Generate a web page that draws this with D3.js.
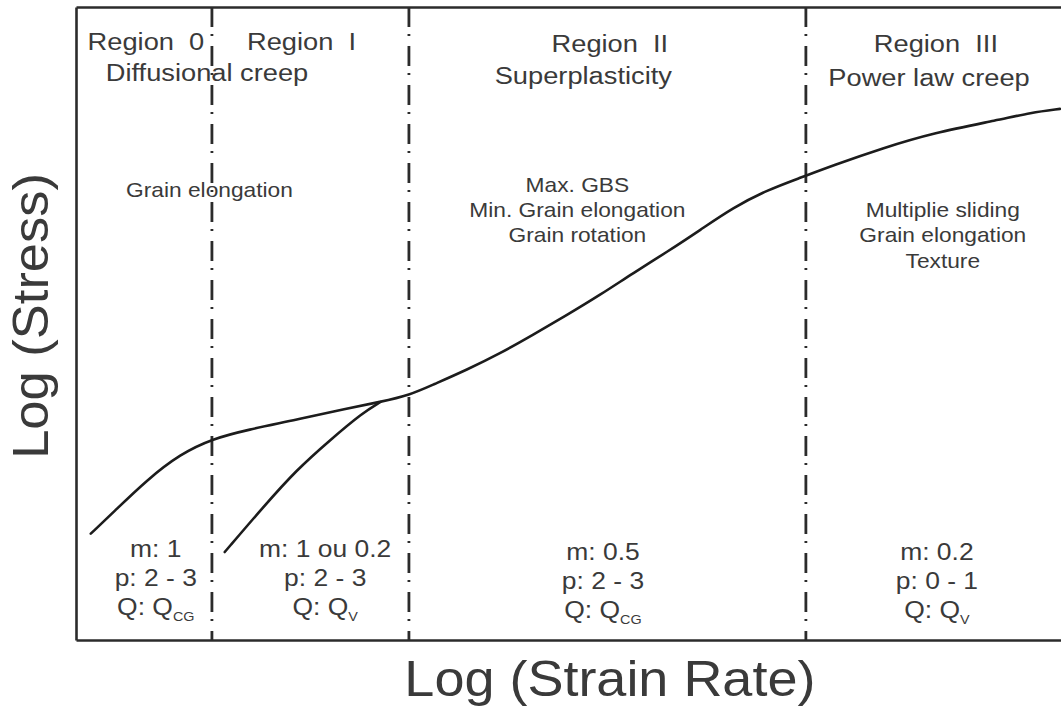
<!DOCTYPE html>
<html>
<head>
<meta charset="utf-8">
<script src="https://cdn.jsdelivr.net/npm/d3@7/dist/d3.min.js"></script>
<style>
  html, body { margin: 0; padding: 0; background: #fff; }
  svg { display: block; }
  text { font-family: "Liberation Sans", Arial, Helvetica, sans-serif; fill: #3a3a3a; white-space: pre; }
</style>
</head>
<body>
<script>
// Schematic deformation map: log(stress) against log(strain rate), in arbitrary units (0-100).

// Main flow curve through all four regimes
const mainCurve = [
  [1.5, 16.8], [3.8, 20.2], [7.2, 25.3], [10.6, 29.4], [13.9, 31.8], [17.4, 33.2],
  [22.4, 34.8], [27.5, 36.6], [30.9, 37.6], [33.9, 38.7], [36.2, 40.3], [39.7, 42.7],
  [43.1, 45.3], [46.4, 48.2], [49.8, 51.3], [53.2, 54.5], [56.6, 58.0], [60.0, 61.3],
  [63.4, 64.8], [66.7, 68.3], [70.2, 71.1], [73.5, 73.0], [76.9, 75.0], [81.9, 77.7],
  [87.0, 80.1], [93.8, 82.2], [96.9, 83.3], [99.9, 83.9]
];

// Alternative branch in Region I joining the main curve
const branchCurve = [
  [15.1, 13.9], [19.0, 21.0], [22.4, 26.9], [25.8, 31.6], [29.1, 35.9], [30.9, 37.6]
];

// Region boundaries along log(strain rate)
const boundaries = [13.8, 33.8, 74.1];

const regionNames = ["Region  0", "Region  I", "Region  II", "Region  III"];
const mechanisms = ["Diffusional creep", "Superplasticity", "Power law creep"];
const features = [
  ["Grain elongation"],
  [],
  ["Max. GBS", "Min. Grain elongation", "Grain rotation"],
  ["Multiplie sliding", "Grain elongation", "Texture"]
];
const mValues = ["1", "1 ou 0.2", "0.5", "0.2"];
const pValues = ["2 - 3", "2 - 3", "2 - 3", "0 - 1"];
const qSubscripts = ["CG", "V", "CG", "V"];

const xTitle = "Log (Strain Rate)";
const yTitle = "Log (Stress)";

// ---- layout ----
const W = 1061, H = 709;
const plot = { left: 76, right: 1061, top: 7, bottom: 640 };

const svg = d3.select("body").append("svg").attr("width", W).attr("height", H);

const x = d3.scaleLinear().domain([0, 100]).range([plot.left, plot.right]);
const y = d3.scaleLinear().domain([0, 100]).range([plot.bottom, plot.top]);

// Label anchors, in data units
const titlePos = [[7.1, 93.2], [22.9, 93.2], [54.2, 92.9], [87.3, 92.9]];
const mechPos = [[13.3, 88.3], [51.5, 87.8], [86.6, 87.5]];
const featurePos = [[13.55, 70.0], null, [50.9, 70.8], [88.0, 66.8]];
const featureStep = 4.0;
const paramPos = [[8.1, 13.1], [25.3, 13.1], [53.5, 12.6], [87.4, 12.6]];
const paramStep = 4.6;

const frameColor = "#2b2b2b";

// Frame: bottom, left and top lines drawn as tickless axes
function styleAxis(g) {
  g.selectAll(".domain").attr("stroke", frameColor).attr("stroke-width", 2.6);
}
svg.append("g")
  .attr("transform", `translate(0,${plot.bottom})`)
  .call(d3.axisBottom(x).tickValues([]).tickSizeOuter(0))
  .call(styleAxis);
svg.append("g")
  .attr("transform", `translate(0,${plot.top})`)
  .call(d3.axisTop(x).tickValues([]).tickSizeOuter(0))
  .call(styleAxis);
svg.append("g")
  .attr("transform", `translate(${plot.left},0)`)
  .call(d3.axisLeft(y).tickValues([]).tickSizeOuter(0))
  .call(styleAxis);

// Dash-dot region boundaries
svg.append("g").selectAll("line")
  .data(boundaries)
  .join("line")
  .attr("x1", d => x(d)).attr("x2", d => x(d))
  .attr("y1", y(100)).attr("y2", y(0))
  .attr("stroke", frameColor)
  .attr("stroke-width", 2.8)
  .attr("stroke-dasharray", "20,7,2,10");

// Flow curves (B-spline through the read points for a smooth trace)
const line = d3.line()
  .x(d => x(d[0]))
  .y(d => y(d[1]))
  .curve(d3.curveBasis);

svg.append("g").selectAll("path")
  .data([mainCurve, branchCurve])
  .join("path")
  .attr("d", line)
  .attr("fill", "none")
  .attr("stroke", "#1c1c1c")
  .attr("stroke-width", 2.6)
  .attr("stroke-linecap", "round");

// Horizontally stretched centred label
function label(parent, txt, px, py, size, sx) {
  return parent.append("text")
    .attr("transform", `translate(${px},${py}) scale(${sx},1)`)
    .attr("text-anchor", "middle")
    .style("font-size", size + "px")
    .text(txt);
}

const labels = svg.append("g");

regionNames.forEach((t, i) => {
  label(labels, t, x(titlePos[i][0]), y(titlePos[i][1]), 23.5, 1.16);
});
mechanisms.forEach((t, i) => {
  label(labels, t, x(mechPos[i][0]), y(mechPos[i][1]), 23.5, 1.16);
});
features.forEach((lines, i) => {
  lines.forEach((t, j) => {
    const p = featurePos[i];
    label(labels, t, x(p[0]), y(p[1] - j * featureStep), 20.5, 1.11);
  });
});

paramPos.forEach((p, i) => {
  const cx = x(p[0]);
  label(labels, "m: " + mValues[i], cx, y(p[1]), 23, 1.15);
  label(labels, "p: " + pValues[i], cx, y(p[1] - paramStep), 23, 1.15);
  const q = labels.append("text")
    .attr("transform", `translate(${cx},${y(p[1] - 2 * paramStep)}) scale(1.15,1)`)
    .attr("text-anchor", "middle")
    .style("font-size", "23px");
  q.append("tspan").text("Q: Q");
  q.append("tspan").attr("dy", 6).style("font-size", "12.5px").text(qSubscripts[i]);
});

// Axis titles
svg.append("text")
  .attr("transform", `translate(${x(54.2)},696) scale(1.08,1)`)
  .attr("text-anchor", "middle")
  .style("font-size", "50px")
  .text(xTitle);

svg.append("text")
  .attr("transform", `translate(48,${y(51.2)}) rotate(-90) scale(1.05,1)`)
  .attr("text-anchor", "middle")
  .style("font-size", "50px")
  .text(yTitle);
</script>
</body>
</html>
